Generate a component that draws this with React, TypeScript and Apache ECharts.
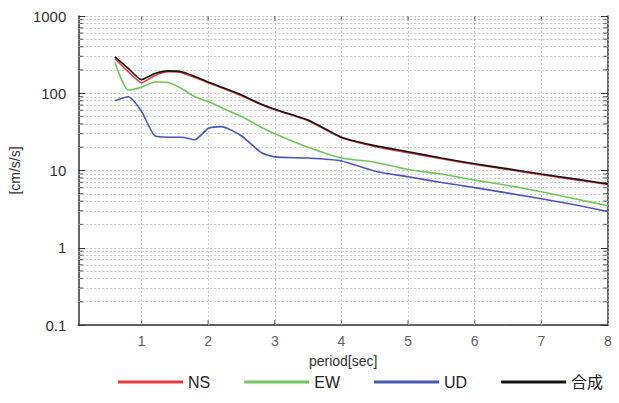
import React, { useEffect, useRef } from "react";
import * as echarts from "echarts";

const periods = [0.6, 0.8, 1.0, 1.2, 1.4, 1.6, 1.8, 2.0, 2.2, 2.5, 2.8, 3.0, 3.5, 4.0, 4.5, 5.0, 5.5, 6.0, 6.5, 7.0, 7.5, 8.0];
const nsValues = [280, 190, 137, 170, 190, 185, 160, 137, 118, 93, 71, 61, 44, 26.5, 20.5, 17, 14.2, 12, 10.3, 8.8, 7.6, 6.6];
const ewValues = [250, 110, 120, 140, 138, 115, 90, 78, 65, 50, 36, 30, 20, 14.5, 12.8, 10.3, 9, 7.5, 6.4, 5.3, 4.3, 3.5];
const udValues = [80, 90, 58, 28, 27, 27, 25, 35, 37, 28, 17, 15, 14.5, 13.3, 9.8, 8.3, 7, 6, 5.1, 4.3, 3.6, 2.95];
const totalValues = [295, 210, 150, 180, 195, 190, 165, 140, 120, 95, 72, 62, 45, 27, 21, 17.5, 14.5, 12.2, 10.5, 9.0, 7.8, 6.7];

const seriesNames = ["NS", "EW", "UD", "合成"];
const seriesColors = ["#e5393b", "#72c45c", "#4a57b3", "#151515"];
const yMin = 0.1;
const yMax = 1000;
const xMin = 0.05;
const xMax = 8;
const xTickValues = [1, 2, 3, 4, 5, 6, 7, 8];
const minorValues = [
  0.2, 0.3, 0.4, 0.5, 0.6, 0.7, 0.8, 0.9,
  2, 3, 4, 5, 6, 7, 8, 9,
  20, 30, 40, 50, 60, 70, 80, 90,
  200, 300, 400, 500, 600, 700, 800, 900,
];

const font = "'Liberation Sans', Arial, sans-serif";

export default function App() {
  const ref = useRef<HTMLDivElement>(null);
  useEffect(() => {
    if (!ref.current) return;
    const chart = echarts.init(ref.current, null, { renderer: "svg" });
    const allValues = [nsValues, ewValues, udValues, totalValues];
    const lineSeries = seriesNames.map((name, i) => ({
      name,
      type: "line",
      data: periods.map((p, j) => [p, allValues[i][j]]),
      symbol: "none",
      smooth: 0.2,
      lineStyle: { color: seriesColors[i], width: 1.6 },
      itemStyle: { color: seriesColors[i] },
      z: 5 + (i === 3 ? 2 : i === 0 ? 1 : 0),
    }));
    const gridLines = {
      name: "grid",
      type: "line",
      data: [],
      silent: true,
      markLine: {
        silent: true,
        symbol: "none",
        label: { show: false },
        lineStyle: { color: "#b5b5b5", type: [2, 2], width: 0.8 },
        data: [
          ...minorValues.map((v) => ({ yAxis: v })),
          ...xTickValues.map((v) => ({ xAxis: v })),
        ],
      },
    };
    const tickMark = (x: number, vals: number[], off: number, len: number) => ({
      name: "ticks",
      type: "scatter",
      silent: true,
      clip: false,
      symbol: "rect",
      symbolSize: [len, 1.2],
      symbolOffset: [off, 0],
      itemStyle: { color: "#333" },
      data: vals.map((v) => [x, v]),
    });
    const xTickMark = (y: number, off: number) => ({
      name: "xticks",
      type: "scatter",
      silent: true,
      clip: false,
      symbol: "rect",
      symbolSize: [1.2, 5],
      symbolOffset: [0, off],
      itemStyle: { color: "#333" },
      data: xTickValues.slice(0, -1).map((v) => [v, y]),
    });
    chart.setOption({
      animation: false,
      textStyle: { fontFamily: font },
      grid: { left: 78, right: 11, top: 16, bottom: 78, containLabel: false },
      legend: {
        data: seriesNames,
        bottom: 8,
        left: 113,
        icon: "rect",
        itemWidth: 65,
        itemHeight: 3,
        itemGap: 34,
        textStyle: { fontSize: 16, color: "#222", fontFamily: "'Liberation Sans', 'Noto Sans CJK JP', sans-serif" },
      },
      xAxis: [
        {
          type: "value",
          min: xMin,
          max: xMax,
          name: "period[sec]",
          nameLocation: "middle",
          nameGap: 29,
          nameTextStyle: { fontSize: 14, color: "#333" },
          axisLine: { lineStyle: { color: "#333", width: 1.5 } },
          axisTick: { show: false },
          axisLabel: { show: false },
          splitLine: { show: false },
        },
      ],
      yAxis: [
        {
          type: "log",
          logBase: 10,
          min: yMin,
          max: yMax,
          name: "[cm/s/s]",
          nameLocation: "middle",
          nameGap: 52,
          nameTextStyle: { fontSize: 14, color: "#333" },
          axisLine: { show: true, lineStyle: { color: "#333", width: 1.5 } },
          axisTick: { show: true, inside: true, length: 7, lineStyle: { color: "#333" } },
          axisLabel: {
            fontSize: 15,
            color: "#333",
            margin: 12,
            formatter: (v: number) => String(Number(v.toPrecision(3))),
          },
          splitLine: { show: true, lineStyle: { color: "#b5b5b5", type: [2, 2], width: 0.8 } },
        },
        {
          type: "log",
          logBase: 10,
          position: "right",
          min: yMin,
          max: yMax,
          axisLine: { show: true, lineStyle: { color: "#333", width: 1.5 } },
          axisTick: { show: true, inside: true, length: 7, lineStyle: { color: "#333" } },
          axisLabel: { show: false },
          splitLine: { show: false },
        },
      ],
      series: [
        gridLines,
        tickMark(xMin, minorValues, 2.5, 5),
        tickMark(xMax, minorValues, -2.5, 5),
        xTickMark(yMin, -2.5),
        xTickMark(yMax, 2.5),
        {
          name: "xlabels",
          type: "scatter",
          silent: true,
          clip: false,
          symbol: "circle",
          symbolSize: 1,
          itemStyle: { color: "rgba(0,0,0,0)" },
          data: xTickValues.map((v) => [v, yMin]),
          label: {
            show: true,
            position: "bottom",
            distance: 8,
            fontSize: 14,
            color: "#333",
            formatter: (p: any) => String(p.value[0]),
          },
          labelLayout: { hideOverlap: false },
        },
        ...lineSeries,
      ],
    });
    return () => chart.dispose();
  }, []);
  return <div ref={ref} style={{ width: 619, height: 403, position: "absolute", left: 0, top: 0 }} />;
}
